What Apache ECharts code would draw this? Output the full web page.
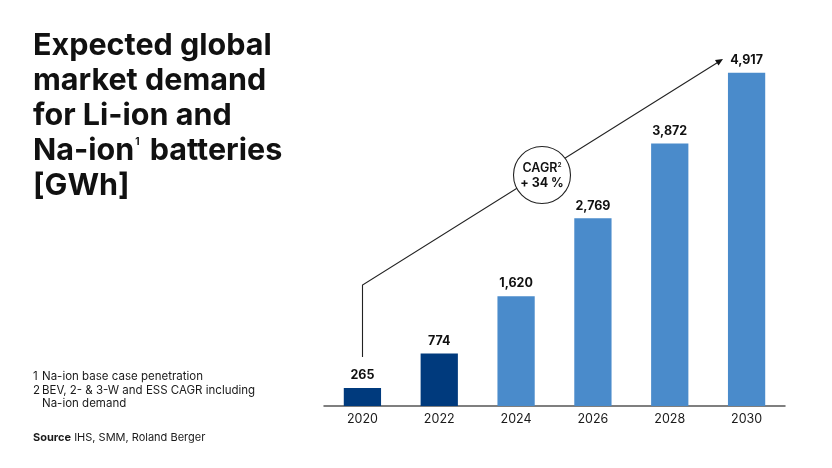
<!DOCTYPE html>
<html>
<head>
<meta charset="utf-8">
<style>
  html, body { margin: 0; padding: 0; background: #fff; }
  #main { width: 832px; height: 468px; }
</style>
<script src="https://cdn.jsdelivr.net/npm/echarts@6/dist/echarts.min.js"></script>
</head>
<body>
<div id="main"></div>
<script>
const years = ['2020', '2022', '2024', '2026', '2028', '2030']
const demand = [265, 774, 1620, 2769, 3872, 4917]
const actualYears = ['2020', '2022']
const titleLines = ['Expected global', 'market demand', 'for Li-ion and', 'Na-ion{sup|1} batteries', '[GWh]']

const FONT = 'Inter, "Noto Sans", sans-serif'
const DARK = '#003a7d'
const LIGHT = '#4a8bcb'
const INK = '#1a1a1a'

const chart = echarts.init(document.getElementById('main'), null, {renderer: 'canvas'})

// small helper for the footnote lines
const note = (x, y, text, size = 11.5) => ({
  type: 'text', left: x, top: y,
  style: {
    text, font: '400 ' + size + 'px ' + FONT, fill: INK,
    rich: {b: {font: '700 ' + size + 'px ' + FONT, fill: INK}}
  }
})

chart.setOption({
  animation: false,
  backgroundColor: '#fff',
  title: {
    text: titleLines.join('\n'),
    left: 33, top: 28, padding: 0,
    textStyle: {
      fontFamily: FONT, fontSize: 30.5, fontWeight: 700, color: '#111', lineHeight: 35,
      rich: {sup: {fontFamily: FONT, fontSize: 10, fontWeight: 700, color: '#111', lineHeight: 35, verticalAlign: 'top', padding: [4, 3, 0, 1]}}
    }
  },
  grid: {left: 324, right: 47, top: 67, bottom: 62},
  xAxis: {
    type: 'category',
    data: years,
    axisTick: {show: false},
    axisLine: {lineStyle: {color: '#555', width: 1.5}},
    axisLabel: {color: INK, fontFamily: FONT, fontSize: 12.5, margin: 7}
  },
  yAxis: {type: 'value', min: 0, max: 5000, show: false},
  series: [{
    type: 'bar',
    data: demand,
    barWidth: '48.5%',
    itemStyle: {color: p => actualYears.includes(p.name) ? DARK : LIGHT},
    label: {
      show: true, position: 'top', distance: 6,
      color: '#111', fontFamily: FONT, fontSize: 12.5, fontWeight: 700,
      formatter: p => p.value.toLocaleString('en-US')
    }
  }],
  graphic: [
    {type: 'polyline', shape: {points: [[362.5, 357], [362.5, 285], [720, 61]]}, style: {stroke: '#222', lineWidth: 1.1, fill: null}, z: 5},
    {type: 'polygon', shape: {points: [[723, 59], [715, 60], [718.5, 65.5]]}, style: {fill: '#111'}, z: 5},
    {type: 'circle', shape: {cx: 542, cy: 175, r: 28.5}, style: {fill: '#fff', stroke: '#222', lineWidth: 1.1}, z: 6},
    {
      type: 'text', x: 542, y: 168, z: 7,
      style: {
        text: 'CAGR{s|2}', align: 'center', verticalAlign: 'middle',
        font: '600 12.5px ' + FONT, fill: '#111',
        rich: {s: {font: '600 6.5px ' + FONT, fill: '#111', verticalAlign: 'top', padding: [0, 0, 5, 0]}}
      }
    },
    {
      type: 'text', x: 542, y: 183, z: 7,
      style: {text: '+ 34 %', align: 'center', verticalAlign: 'middle', font: '700 12.5px ' + FONT, fill: '#111'}
    },
    note(33, 371, '1'),
    note(42, 371, 'Na-ion base case penetration'),
    note(33, 385, '2'),
    note(42, 385, 'BEV, 2- & 3-W and ESS CAGR including'),
    note(42, 398, 'Na-ion demand'),
    note(33, 432, '{b|Source} IHS, SMM, Roland Berger', 11)
  ]
})
</script>
</body>
</html>
